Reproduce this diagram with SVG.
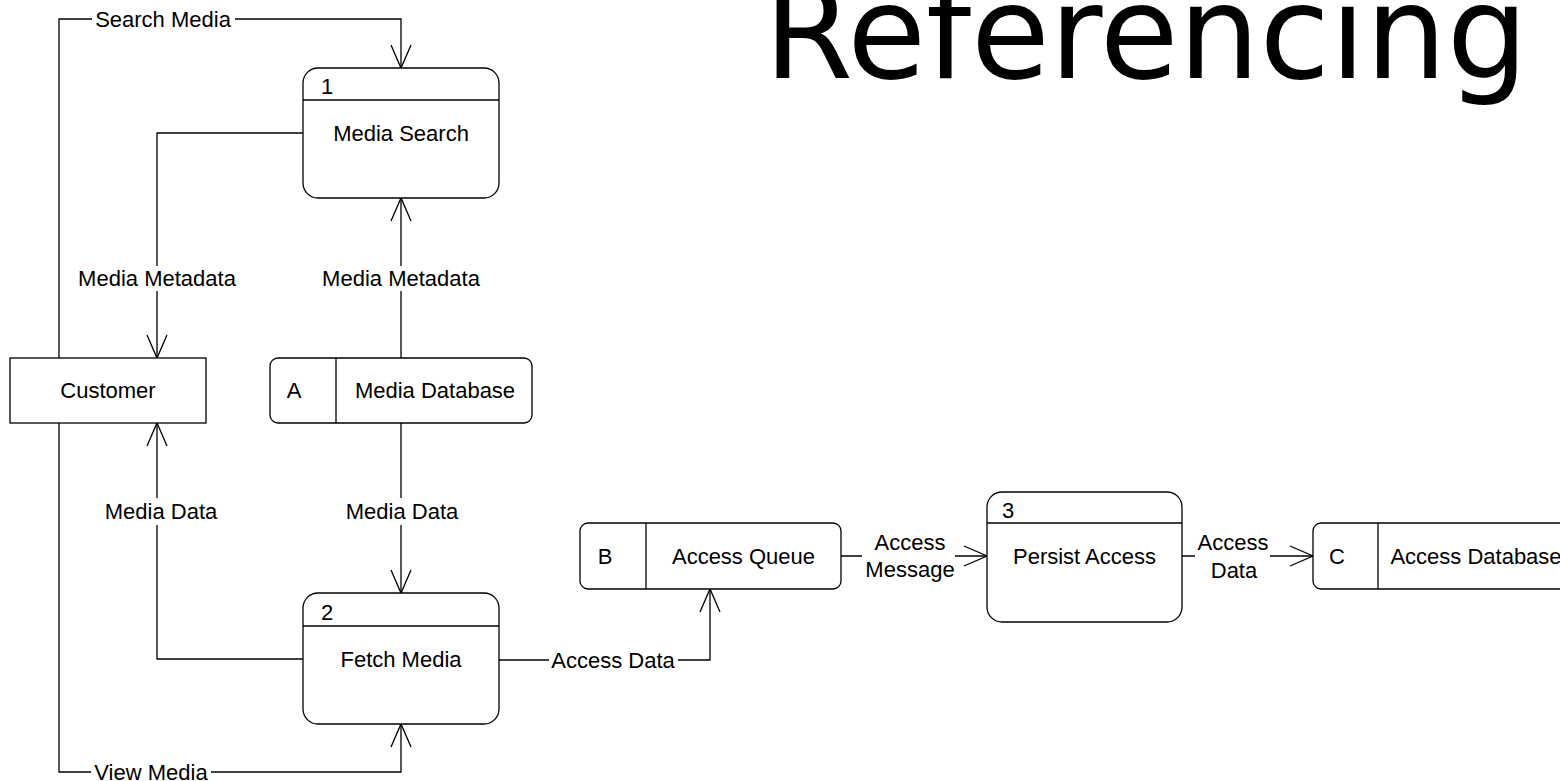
<svg xmlns="http://www.w3.org/2000/svg" width="1560" height="781" viewBox="0 0 1560 781">
<style>
  .shape { fill: #fff; stroke: #000; stroke-width: 1.3; }
  .line { fill: none; stroke: #000; stroke-width: 1.3; }
  .conn { fill: none; stroke: #000; stroke-width: 1.3; marker-end: url(#arr); }
  .t { font-family: "Liberation Sans", Arial, sans-serif; font-size: 22px; fill: #000; }
  .c { text-anchor: middle; }
  .bg { fill: #fff; stroke: none; }
  .title { font-family: "DejaVu Sans", sans-serif; font-size: 130px; fill: #000; }
</style>
<defs>
  <marker id="arr" markerWidth="26" markerHeight="24" refX="24" refY="12" orient="auto" markerUnits="userSpaceOnUse" viewBox="0 0 26 24">
    <path d="M1,2 L24,12 L1,22" fill="none" stroke="#000" stroke-width="1.3"/>
  </marker>
</defs>
<rect width="1560" height="781" fill="#fff"/>

<text id="title" class="title" x="764" y="78" textLength="764" lengthAdjust="spacingAndGlyphs">Referencing</text>

<g id="connectors">
  <path class="conn" d="M59,358 V19 H401 V68"/>
  <path class="conn" d="M303,133 H157 V358"/>
  <path class="conn" d="M401,358 V198"/>
  <path class="conn" d="M303,659 H157 V423"/>
  <path class="conn" d="M401,423 V593"/>
  <path class="conn" d="M59,423 V772 H401 V724"/>
  <path class="conn" d="M499,660 H710 V589"/>
  <path class="conn" d="M841,556 H987"/>
  <path class="conn" d="M1182,556 H1313"/>

  <rect class="bg" x="92" y="8" width="143" height="22"/>
  <text class="t c" x="163" y="27">Search Media</text>
  <rect class="bg" x="76" y="266" width="162" height="25"/>
  <text class="t c" x="157" y="286">Media Metadata</text>
  <rect class="bg" x="320" y="266" width="162" height="25"/>
  <text class="t c" x="401" y="286">Media Metadata</text>
  <rect class="bg" x="100" y="498" width="122" height="27"/>
  <text class="t c" x="161" y="519">Media Data</text>
  <rect class="bg" x="341" y="498" width="122" height="27"/>
  <text class="t c" x="402" y="519">Media Data</text>
  <rect class="bg" x="91" y="761" width="120" height="20"/>
  <text class="t c" x="151" y="780">View Media</text>
  <rect class="bg" x="549" y="648" width="129" height="24"/>
  <text class="t c" x="613" y="668">Access Data</text>
  <rect class="bg" x="862" y="532" width="93" height="50"/>
  <text class="t c" x="910" y="550">Access</text>
  <text class="t c" x="910" y="577">Message</text>
  <rect class="bg" x="1195" y="532" width="75" height="50"/>
  <text class="t c" x="1233" y="550">Access</text>
  <text class="t c" x="1234" y="578">Data</text>
</g>

<g id="node1">
  <rect class="shape" x="303" y="68" width="196" height="130" rx="15"/>
  <line class="line" x1="303" y1="100" x2="499" y2="100"/>
  <text class="t" x="321" y="94">1</text>
  <text class="t c" x="401" y="141">Media Search</text>
</g>

<g id="node2">
  <rect class="shape" x="303" y="593" width="196" height="131" rx="15"/>
  <line class="line" x1="303" y1="626" x2="499" y2="626"/>
  <text class="t" x="321" y="620">2</text>
  <text class="t c" x="401" y="667">Fetch Media</text>
</g>

<g id="node3">
  <rect class="shape" x="987" y="492" width="195" height="130" rx="15"/>
  <line class="line" x1="987" y1="523" x2="1182" y2="523"/>
  <text class="t" x="1002" y="518">3</text>
  <text class="t c" x="1084.5" y="564">Persist Access</text>
</g>

<g id="customer">
  <rect class="shape" x="10" y="358" width="196" height="65"/>
  <text class="t c" x="108" y="398">Customer</text>
</g>

<g id="storeA">
  <rect class="shape" x="270" y="358" width="262" height="65" rx="8"/>
  <line class="line" x1="336" y1="358" x2="336" y2="423"/>
  <text class="t c" x="294" y="398">A</text>
  <text class="t c" x="435" y="398">Media Database</text>
</g>

<g id="storeB">
  <rect class="shape" x="580" y="523" width="261" height="66" rx="8"/>
  <line class="line" x1="646" y1="523" x2="646" y2="589"/>
  <text class="t c" x="605" y="564">B</text>
  <text class="t c" x="743.5" y="564">Access Queue</text>
</g>

<g id="storeC">
  <rect class="shape" x="1313" y="523" width="261" height="66" rx="8"/>
  <line class="line" x1="1378" y1="523" x2="1378" y2="589"/>
  <text class="t c" x="1337" y="564">C</text>
  <text class="t c" x="1476" y="564">Access Database</text>
</g>
</svg>
